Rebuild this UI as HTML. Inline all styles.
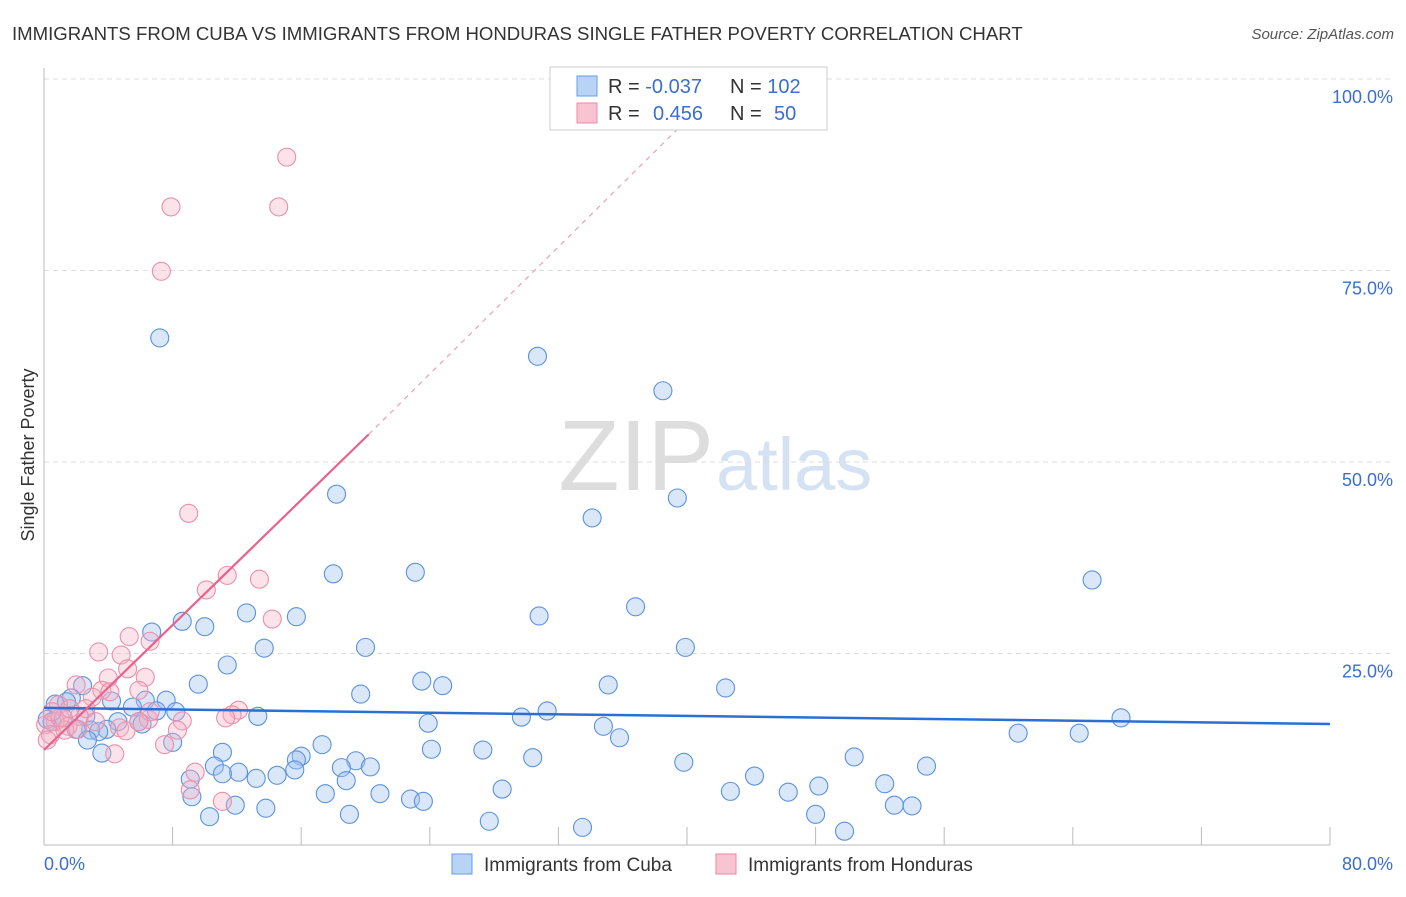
<!DOCTYPE html>
<html><head><meta charset="utf-8"><style>
body{margin:0;background:#fff;font-family:"Liberation Sans",sans-serif;}
svg text{font-family:"Liberation Sans",sans-serif;}
</style></head><body>
<svg width="1406" height="892">
<text x="12" y="40" font-size="18.6" fill="#333">IMMIGRANTS FROM CUBA VS IMMIGRANTS FROM HONDURAS SINGLE FATHER POVERTY CORRELATION CHART</text>
<text x="1394" y="39" font-size="15" fill="#555" text-anchor="end" font-style="italic">Source: ZipAtlas.com</text>
<text x="714" y="490" font-size="100" fill="#ddd" text-anchor="end" font-family="Liberation Serif">ZIP</text>
<text x="716" y="490" font-size="74" fill="#d4e2f3">atlas</text>
<g id="grid"></g>
<g id="axes"></g>
<text x="34" y="455" font-size="18" fill="#333" text-anchor="middle" transform="rotate(-90 34 455)">Single Father Poverty</text>
<g id="marks"></g>
<g>
<rect x="550" y="67" width="277" height="63" fill="#fff" stroke="#ccc"/>
<rect x="577" y="76" width="20" height="20" fill="#b7d3f5" stroke="#6a9de0"/>
<rect x="577" y="103" width="20" height="20" fill="#f9c4d2" stroke="#e88aa5"/>
<text x="608" y="93" font-size="20" fill="#333">R = <tspan fill="#3a6fd0">-0.037</tspan><tspan x="730">N = </tspan><tspan fill="#3a6fd0">102</tspan></text>
<text x="608" y="120" font-size="20" fill="#333">R = <tspan x="653" fill="#3a6fd0">0.456</tspan><tspan x="730">N = </tspan><tspan x="774" fill="#3a6fd0">50</tspan></text>
</g>
<g>
<rect x="452" y="854" width="20" height="20" fill="#b7d3f5" stroke="#6a9de0"/>
<text x="484" y="871" font-size="19" fill="#333">Immigrants from Cuba</text>
<rect x="716" y="854" width="20" height="20" fill="#f9c4d2" stroke="#e88aa5"/>
<text x="748" y="871" font-size="19" fill="#333">Immigrants from Honduras</text>
</g>
</svg>
<script>
const cubaX=[7.2,30.7,38.5,18.2,39.4,34.1,18.0,23.1,65.2,36.8,30.8,12.6,15.7,8.6,10.0,6.7,13.7,20.0,39.9,11.4,23.5,24.8,35.1,42.4,9.6,19.7,2.4,1.7,4.2,7.6,6.3,0.7,1.4,5.5,8.2,7.0,31.3,29.7,13.3,67.0,23.9,34.8,4.6,5.9,6.1,2.6,0.2,0.5,1.2,3.9,2.9,2.0,3.4,35.8,60.6,64.4,2.7,8.0,17.3,24.1,27.3,3.6,11.1,16.0,15.7,30.4,50.4,19.4,39.8,10.6,54.9,15.6,18.5,20.3,12.1,9.1,11.1,14.5,13.2,44.2,18.8,52.3,48.2,28.5,17.5,20.9,42.7,46.3,9.2,22.8,23.6,52.9,54.0,11.9,13.8,19.0,48.0,10.3,27.7,33.5,49.8];
const cubaY=[66.2,63.8,59.3,45.8,45.3,42.7,35.4,35.6,34.6,31.1,29.9,30.3,29.8,29.2,28.5,27.8,25.7,25.8,25.8,23.5,21.4,20.8,20.9,20.5,21.0,19.7,20.8,19.2,18.8,18.9,18.9,18.4,18.7,18.0,17.4,17.5,17.5,16.7,16.8,16.6,15.9,15.5,16.1,16.1,15.8,16.8,16.4,16.1,16.6,15.1,15.0,15.1,14.8,14.0,14.6,14.6,13.7,13.4,13.1,12.5,12.4,12.0,12.1,11.6,11.1,11.4,11.5,11.0,10.8,10.3,10.3,9.8,10.1,10.2,9.5,8.6,9.3,9.1,8.7,9.0,8.4,8.0,7.7,7.3,6.7,6.7,7.0,6.9,6.3,6.0,5.7,5.2,5.1,5.2,4.8,4.0,4.0,3.7,3.1,2.3,1.8];
const hondX=[15.1,7.9,14.6,7.3,9.0,11.4,13.4,10.1,14.2,5.3,6.6,3.4,4.8,5.2,6.3,4.0,2.0,5.9,3.6,4.1,3.0,0.9,2.6,12.1,11.7,11.3,2.2,6.5,8.6,0.7,0.1,4.7,5.1,8.3,1.5,0.4,1.3,2.1,7.5,4.4,9.4,9.1,11.1,6.6,1.0,1.6,3.2,5.9,0.5,0.2];
const hondY=[89.8,83.3,83.3,74.9,43.3,35.2,34.7,33.3,29.5,27.2,26.6,25.2,24.8,23.0,21.9,21.8,20.9,20.2,20.2,20.0,19.3,18.3,17.8,17.6,17.0,16.6,16.8,16.4,16.2,16.1,15.7,15.3,14.9,15.0,15.5,14.4,15.0,15.1,13.1,11.9,9.5,7.2,5.7,17.4,16.6,17.8,16.1,16.1,17.4,13.7];
const xTicks=[0,10,20,30,40,50,60,70,80];
const yTicks=[25,50,75,100];
const cubaTrend=[17.9,15.8];
const hondTrend=[12.4,2.04];
const NS='http://www.w3.org/2000/svg';
const sx=v=>44+v*16.075, sy=v=>845-v*7.66;
function mk(tag,attrs,parent){const e=document.createElementNS(NS,tag);for(const k in attrs)e.setAttribute(k,attrs[k]);parent.appendChild(e);return e;}
const grid=document.getElementById('grid'),axes=document.getElementById('axes'),marks=document.getElementById('marks');
yTicks.forEach(t=>{
 const l=mk('line',{x1:44,x2:1394,y1:sy(t),y2:sy(t),stroke:'#ddd','stroke-dasharray':'5,4'},grid);
 
 
 const tx=mk('text',{x:1393,y:sy(t)+24,'font-size':18,fill:'#3a6fd0','text-anchor':'end'},axes);
 tx.textContent=t.toFixed(1)+'%';
 
 
});
mk('line',{x1:44,x2:44,y1:68,y2:845,stroke:'#bbb'},axes);
mk('line',{x1:44,x2:1330,y1:845,y2:845,stroke:'#bbb'},axes);
for(let i=0;i<=10;i++){const v=i*8;mk('line',{x1:sx(v),x2:sx(v),y1:827,y2:845,stroke:'#bbb'},axes);}
[[0,'0.0%','start',44],[80,'80.0%','end',1393]].forEach(a=>{
 const tx=mk('text',{x:a[3],y:870,'font-size':18,fill:'#3a6fd0','text-anchor':a[2]},axes);
 tx.textContent=a[1];
 
 
});
cubaX.forEach((x,i)=>{
 const c=mk('circle',{cx:sx(x),cy:sy(cubaY[i]),r:9,fill:'rgba(160,196,240,0.4)',stroke:'#5b92dd','stroke-width':1.1},marks);
 
 
});
hondX.forEach((x,i)=>{
 const c=mk('circle',{cx:sx(x),cy:sy(hondY[i]),r:9,fill:'rgba(246,175,195,0.35)',stroke:'#ea8fab','stroke-width':1.1},marks);
 
 
});
const bt=mk('line',{x1:sx(0),y1:sy(cubaTrend[0]),x2:sx(80),y2:sy(cubaTrend[1]),stroke:'#2a6fd4','stroke-width':2.5},marks);


const xe=20.2, xd=(100-hondTrend[0])/hondTrend[1];
const pt=mk('line',{x1:sx(0),y1:sy(hondTrend[0]),x2:sx(xe),y2:sy(hondTrend[0]+hondTrend[1]*xe),stroke:'#e8628c','stroke-width':2.2},marks);


const pd=mk('line',{x1:sx(xe),y1:sy(hondTrend[0]+hondTrend[1]*xe),x2:sx(xd),y2:sy(100)-6,stroke:'#eaa0b8','stroke-width':1.2,'stroke-dasharray':'5,5'},marks);


</script>
</body></html>
